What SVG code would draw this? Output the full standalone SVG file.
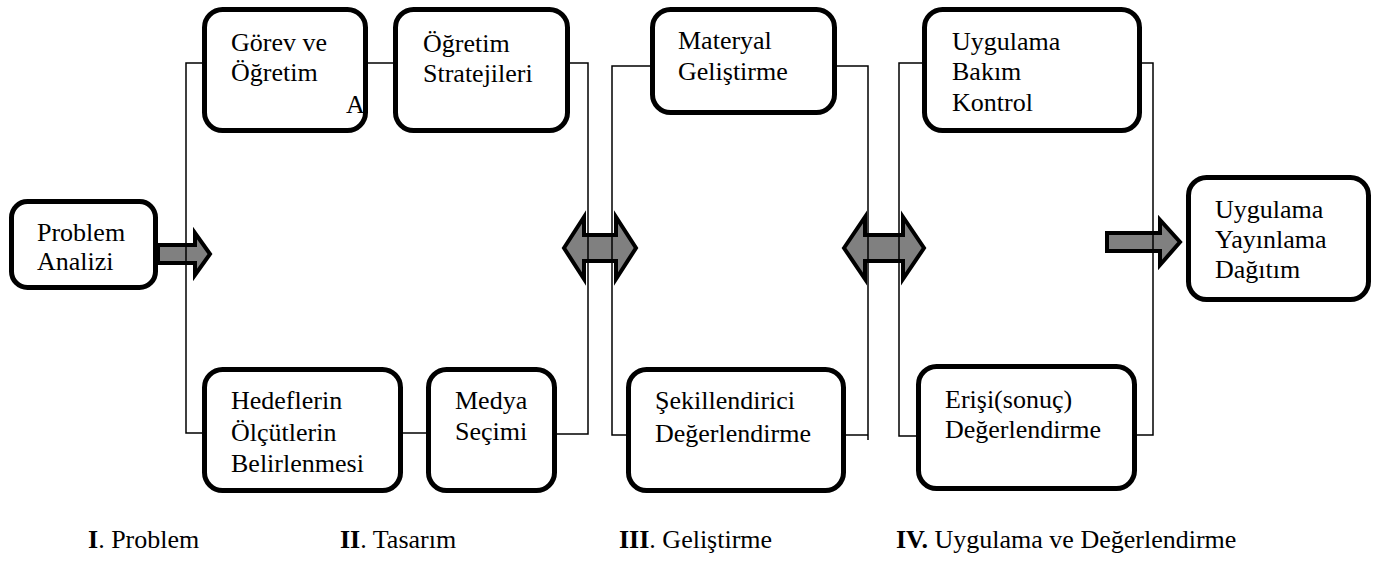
<svg xmlns="http://www.w3.org/2000/svg" width="1380" height="572" viewBox="0 0 1380 572">
  <style>
    .box { fill: #ffffff; stroke: #000000; stroke-width: 5; }
    .lbl { font-family: "Liberation Serif", "Times New Roman", serif; font-size: 26px; fill: #000000; }
    .conn { fill: none; stroke: #000000; stroke-width: 1.5; }
    .arrow { fill: #808080; stroke: #000000; stroke-width: 4; stroke-linejoin: miter; }
  </style>
  <rect width="1380" height="572" fill="#ffffff"/>

  <!-- block arrows between phases -->
  <g id="arrows">
    <polygon class="arrow" points="158,245 195,245 195,233 210,254 195,275 195,263 158,263"/>
    <polygon class="arrow" points="564,248 584,217 584,235 616,235 616,217 636,248 616,279 616,261 584,261 584,279"/>
    <polygon class="arrow" points="844,248 865,217 865,235 903,235 903,217 924,248 903,279 903,261 865,261 865,279"/>
    <polygon class="arrow" points="1107,233 1160,233 1160,220 1180,242 1160,265 1160,251 1107,251"/>
  </g>

  <!-- thin bracket connectors -->
  <g id="connectors">
    <path class="conn" d="M202,63 H186 V433 H202"/>
    <path class="conn" d="M368,63 H393"/>
    <path class="conn" d="M570,63 H588 V434 H557"/>
    <path class="conn" d="M403,433 H426"/>
    <path class="conn" d="M650,66 H612 V435 H626"/>
    <path class="conn" d="M837,66 H868 V440"/>
    <path class="conn" d="M846,435 H868"/>
    <path class="conn" d="M922,63 H899 V436 H916"/>
    <path class="conn" d="M1142,63 H1153 V435 H1137"/>
  </g>

  <g id="problem-analizi">
    <rect class="box" x="11.5" y="201.5" width="144" height="86" rx="16"/>
    <text class="lbl" x="37" y="241">Problem</text>
    <text class="lbl" x="37" y="270">Analizi</text>
  </g>

  <g id="gorev-ogretim">
    <rect class="box" x="204.5" y="9.5" width="161" height="121" rx="18"/>
    <text class="lbl" x="231" y="51">Görev ve</text>
    <text class="lbl" x="231" y="81">Öğretim</text>
    <text class="lbl" x="346" y="113">A</text>
  </g>

  <g id="ogretim-stratejileri">
    <rect class="box" x="395.5" y="9.5" width="172" height="121" rx="18"/>
    <text class="lbl" x="423" y="52">Öğretim</text>
    <text class="lbl" x="423" y="82">Stratejileri</text>
  </g>

  <g id="hedefler">
    <rect class="box" x="204.5" y="369.5" width="196" height="121" rx="18"/>
    <text class="lbl" x="231" y="409">Hedeflerin</text>
    <text class="lbl" x="231" y="441">Ölçütlerin</text>
    <text class="lbl" x="231" y="472">Belirlenmesi</text>
  </g>

  <g id="medya-secimi">
    <rect class="box" x="428.5" y="369.5" width="126" height="121" rx="18"/>
    <text class="lbl" x="455" y="409">Medya</text>
    <text class="lbl" x="455" y="440">Seçimi</text>
  </g>

  <g id="materyal-gelistirme">
    <rect class="box" x="652.5" y="9.5" width="182" height="103" rx="18"/>
    <text class="lbl" x="678" y="49">Materyal</text>
    <text class="lbl" x="678" y="80">Geliştirme</text>
  </g>

  <g id="sekillendirici">
    <rect class="box" x="628.5" y="369.5" width="215" height="121" rx="18"/>
    <text class="lbl" x="655" y="409">Şekillendirici</text>
    <text class="lbl" x="655" y="442">Değerlendirme</text>
  </g>

  <g id="uygulama-bakim">
    <rect class="box" x="924.5" y="9.5" width="215" height="121" rx="18"/>
    <text class="lbl" x="952" y="50">Uygulama</text>
    <text class="lbl" x="952" y="80">Bakım</text>
    <text class="lbl" x="952" y="111">Kontrol</text>
  </g>

  <g id="erisi-degerlendirme">
    <rect class="box" x="918.5" y="366.5" width="216" height="122" rx="18"/>
    <text class="lbl" x="945" y="408">Erişi(sonuç)</text>
    <text class="lbl" x="945" y="438">Değerlendirme</text>
  </g>

  <g id="uygulama-yayinlama">
    <rect class="box" x="1188.5" y="177.5" width="180" height="122" rx="18"/>
    <text class="lbl" x="1215" y="218">Uygulama</text>
    <text class="lbl" x="1215" y="248">Yayınlama</text>
    <text class="lbl" x="1215" y="278">Dağıtım</text>
  </g>

  <!-- phase captions -->
  <g id="phases">
    <text class="lbl" x="88" y="548"><tspan font-weight="bold">I</tspan>. Problem</text>
    <text class="lbl" x="340" y="548"><tspan font-weight="bold">II</tspan>. Tasarım</text>
    <text class="lbl" x="619" y="548"><tspan font-weight="bold">III</tspan>. Geliştirme</text>
    <text class="lbl" x="896" y="548"><tspan font-weight="bold">IV.</tspan> Uygulama ve Değerlendirme</text>
  </g>
</svg>
